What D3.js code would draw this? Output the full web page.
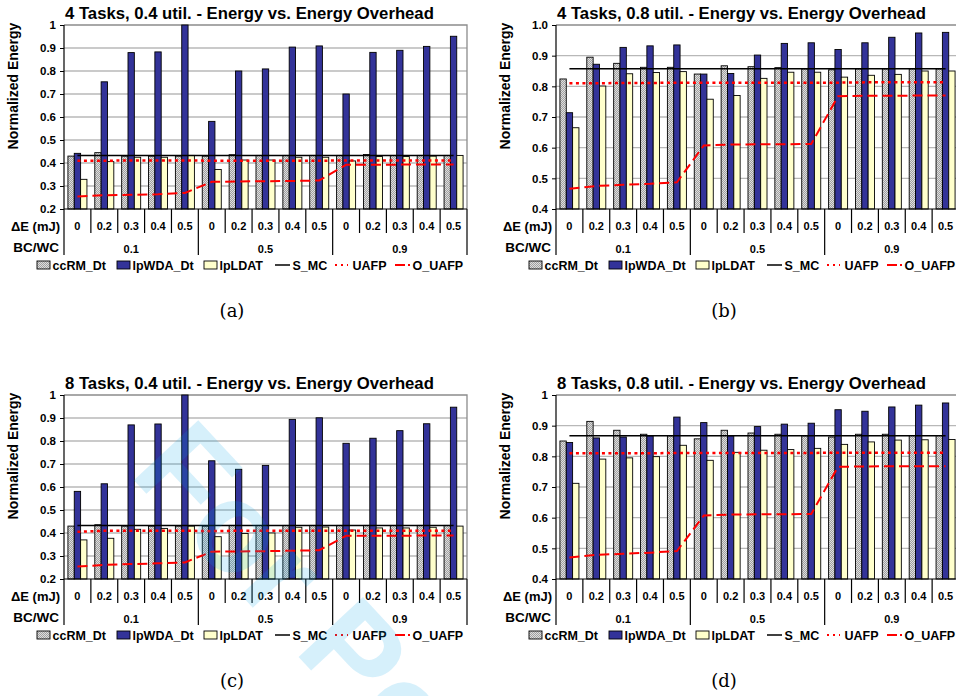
<!DOCTYPE html>
<html>
<head>
<meta charset="utf-8">
<script src="https://cdn.jsdelivr.net/npm/d3@7"></script>
<style>
  body { margin: 0; background: #fff; }
  svg { display: block; font-family: "Liberation Sans", Arial, sans-serif; }
</style>
</head>
<body>
<svg class="chart" width="956" height="696"></svg>
<script>
// category labels
const deltaE = ["0", "0.2", "0.3", "0.4", "0.5"];
const bcwc = ["0.1", "0.5", "0.9"];
const barNames = ["ccRM_Dt", "lpWDA_Dt", "lpLDAT"];

// (a) 4 tasks, 0.4 util.
const a_ccRM = [0.43, 0.445, 0.43, 0.43, 0.43, 0.43, 0.436, 0.433, 0.433, 0.433, 0.433, 0.437, 0.433, 0.433, 0.433];
const a_lpWDA = [0.442, 0.753, 0.88, 0.883, 1.0, 0.581, 0.8, 0.809, 0.904, 0.909, 0.7, 0.881, 0.89, 0.907, 0.951];
const a_lpLDAT = [0.329, 0.406, 0.425, 0.425, 0.433, 0.372, 0.413, 0.413, 0.425, 0.425, 0.409, 0.428, 0.428, 0.43, 0.433];
const a_SMC = [0.433, 0.433, 0.433, 0.433, 0.433, 0.433, 0.433, 0.433, 0.433, 0.433, 0.433, 0.433, 0.433, 0.433, 0.433];
const a_UAFP = [0.41, 0.41, 0.411, 0.411, 0.411, 0.41, 0.41, 0.41, 0.41, 0.41, 0.411, 0.411, 0.411, 0.411, 0.411];
const a_OUAFP = [0.254, 0.26, 0.262, 0.264, 0.27, 0.318, 0.32, 0.321, 0.322, 0.324, 0.392, 0.392, 0.393, 0.393, 0.393];

// (b) 4 tasks, 0.8 util.
const b_ccRM = [0.824, 0.895, 0.875, 0.862, 0.862, 0.84, 0.867, 0.864, 0.861, 0.857, 0.854, 0.857, 0.857, 0.857, 0.857];
const b_lpWDA = [0.714, 0.872, 0.927, 0.932, 0.935, 0.84, 0.842, 0.902, 0.94, 0.942, 0.92, 0.942, 0.96, 0.974, 0.976];
const b_lpLDAT = [0.665, 0.801, 0.841, 0.845, 0.848, 0.758, 0.77, 0.826, 0.846, 0.846, 0.83, 0.836, 0.839, 0.85, 0.85];
const b_SMC = [0.857, 0.857, 0.857, 0.857, 0.857, 0.857, 0.857, 0.857, 0.857, 0.857, 0.857, 0.857, 0.857, 0.857, 0.857];
const b_UAFP = [0.81, 0.81, 0.811, 0.811, 0.812, 0.812, 0.812, 0.812, 0.812, 0.812, 0.812, 0.813, 0.813, 0.813, 0.813];
const b_OUAFP = [0.466, 0.475, 0.479, 0.482, 0.487, 0.607, 0.61, 0.611, 0.611, 0.612, 0.768, 0.769, 0.769, 0.77, 0.77];

// (c) 8 tasks, 0.4 util.
const c_ccRM = [0.43, 0.436, 0.43, 0.43, 0.43, 0.43, 0.433, 0.433, 0.433, 0.433, 0.433, 0.433, 0.433, 0.433, 0.433];
const c_lpWDA = [0.581, 0.614, 0.87, 0.874, 1.0, 0.714, 0.677, 0.694, 0.894, 0.901, 0.79, 0.812, 0.845, 0.875, 0.947];
const c_lpLDAT = [0.37, 0.377, 0.416, 0.42, 0.43, 0.384, 0.398, 0.4, 0.425, 0.426, 0.413, 0.422, 0.422, 0.425, 0.43];
const c_SMC = [0.433, 0.433, 0.433, 0.433, 0.433, 0.433, 0.433, 0.433, 0.433, 0.433, 0.433, 0.433, 0.433, 0.433, 0.433];
const c_UAFP = [0.405, 0.41, 0.41, 0.41, 0.41, 0.408, 0.41, 0.41, 0.41, 0.41, 0.41, 0.41, 0.41, 0.41, 0.41];
const c_OUAFP = [0.254, 0.261, 0.265, 0.268, 0.272, 0.319, 0.32, 0.321, 0.323, 0.325, 0.388, 0.388, 0.388, 0.389, 0.389];

// (d) 8 tasks, 0.8 util.
const d_ccRM = [0.85, 0.914, 0.885, 0.872, 0.867, 0.857, 0.885, 0.876, 0.872, 0.867, 0.863, 0.872, 0.872, 0.868, 0.868];
const d_lpWDA = [0.845, 0.86, 0.863, 0.867, 0.928, 0.91, 0.867, 0.897, 0.905, 0.908, 0.952, 0.947, 0.961, 0.967, 0.974];
const d_lpLDAT = [0.712, 0.791, 0.795, 0.799, 0.836, 0.787, 0.813, 0.82, 0.822, 0.826, 0.839, 0.847, 0.853, 0.854, 0.855];
const d_SMC = [0.867, 0.867, 0.867, 0.867, 0.867, 0.867, 0.867, 0.867, 0.867, 0.867, 0.867, 0.867, 0.867, 0.867, 0.867];
const d_UAFP = [0.81, 0.81, 0.81, 0.81, 0.811, 0.811, 0.811, 0.811, 0.811, 0.811, 0.812, 0.812, 0.812, 0.812, 0.812];
const d_OUAFP = [0.47, 0.479, 0.482, 0.486, 0.491, 0.607, 0.61, 0.611, 0.611, 0.612, 0.766, 0.767, 0.768, 0.768, 0.768];

const svg = d3.select(".chart");

// dithered grey fill for the ccRM bars
const defs = svg.append("defs");
const pat = defs.append("pattern")
  .attr("id", "dither")
  .attr("width", 2)
  .attr("height", 2)
  .attr("patternUnits", "userSpaceOnUse");
pat.append("rect").attr("width", 2).attr("height", 2).attr("fill", "#dedede");
pat.append("rect").attr("width", 1).attr("height", 1).attr("fill", "#a0a0a0");
pat.append("rect").attr("x", 1).attr("y", 1).attr("width", 1).attr("height", 1).attr("fill", "#a0a0a0");

const barFill = ["url(#dither)", "#333399", "#ffffcc"];
const lineStyle = [
  { name: "S_MC", stroke: "#000", width: 1.5, dash: null },
  { name: "UAFP", stroke: "#ff0000", width: 2.5, dash: "3,3.5" },
  { name: "O_UAFP", stroke: "#ff0000", width: 2, dash: "10,5" },
];

const panels = [
  { x: 64, y: 25, domain: [0.2, 1], fmt: (d) => (d === 1 ? "1" : d3.format(".1f")(d)),
    title: "4 Tasks, 0.4 util. - Energy vs. Energy Overhead", caption: "(a)",
    bars: [a_ccRM, a_lpWDA, a_lpLDAT], lines: [a_SMC, a_UAFP, a_OUAFP] },
  { x: 556, y: 25, domain: [0.4, 1], fmt: d3.format(".1f"),
    title: "4 Tasks, 0.8 util. - Energy vs. Energy Overhead", caption: "(b)",
    bars: [b_ccRM, b_lpWDA, b_lpLDAT], lines: [b_SMC, b_UAFP, b_OUAFP] },
  { x: 64, y: 395, domain: [0.2, 1], fmt: (d) => (d === 1 ? "1" : d3.format(".1f")(d)),
    title: "8 Tasks, 0.4 util. - Energy vs. Energy Overhead", caption: "(c)",
    bars: [c_ccRM, c_lpWDA, c_lpLDAT], lines: [c_SMC, c_UAFP, c_OUAFP] },
  { x: 556, y: 395, domain: [0.4, 1], fmt: (d) => (d === 1 ? "1" : d3.format(".1f")(d)),
    title: "8 Tasks, 0.8 util. - Energy vs. Energy Overhead", caption: "(d)",
    bars: [d_ccRM, d_lpWDA, d_lpLDAT], lines: [d_SMC, d_UAFP, d_OUAFP] },
];

const W = 403;
const H = 184;
const cats = d3.cross(bcwc, deltaE).map(([g, e]) => g + "|" + e);

function drawPanel(p) {
  const g = svg.append("g").attr("transform", `translate(${p.x},${p.y})`);

  const x = d3.scaleBand().domain(cats).range([0, W]);
  const xs = d3.scaleBand().domain(barNames).range([0, x.bandwidth()]).paddingOuter(0.62);
  const y = d3.scaleLinear().domain(p.domain).range([H, 0]);
  const ticks = y.ticks(Math.round((p.domain[1] - p.domain[0]) * 10));

  // plot area + gridlines
  g.append("rect").attr("width", W).attr("height", H).attr("fill", "#fff");
  g.append("g")
    .selectAll("line")
    .data(ticks.filter((t) => t > p.domain[0] + 1e-9 && t < p.domain[1] - 1e-9))
    .join("line")
    .attr("x1", 0).attr("x2", W)
    .attr("y1", (d) => y(d)).attr("y2", (d) => y(d))
    .attr("stroke", "#b8b8b8")
    .attr("stroke-width", 1.3);
  g.append("path")
    .attr("d", `M0,0H${W}V${H}`)
    .attr("fill", "none")
    .attr("stroke", "#8c8c8c")
    .attr("stroke-width", 1.3);

  // bars
  p.bars.forEach((vals, si) => {
    g.append("g")
      .selectAll("rect")
      .data(vals)
      .join("rect")
      .attr("x", (d, i) => x(cats[i]) + xs(barNames[si]))
      .attr("y", (d) => y(d))
      .attr("width", xs.bandwidth())
      .attr("height", (d) => H - y(d))
      .attr("fill", barFill[si])
      .attr("stroke", "#000")
      .attr("stroke-width", 0.9);
  });

  // lines
  p.lines.forEach((vals, li) => {
    const st = lineStyle[li];
    const line = d3.line()
      .x((d, i) => x(cats[i]) + x.bandwidth() / 2)
      .y((d) => y(d));
    g.append("path")
      .datum(vals)
      .attr("d", line)
      .attr("fill", "none")
      .attr("stroke", st.stroke)
      .attr("stroke-width", st.width)
      .attr("stroke-dasharray", st.dash);
  });

  // y axis
  const yAxis = g.append("g").call(
    d3.axisLeft(y).tickValues(ticks).tickSize(4).tickPadding(4).tickFormat(p.fmt)
  );
  yAxis.select(".domain").remove();
  yAxis.selectAll("line").attr("stroke", "#000");
  yAxis.selectAll("text")
    .attr("font-size", 11.5)
    .attr("font-weight", "bold")
    .attr("font-family", "Liberation Sans, Arial, sans-serif")
    .attr("fill", "#000");
  g.append("line")
    .attr("x1", 0).attr("x2", 0).attr("y1", 0).attr("y2", H + 46)
    .attr("stroke", "#000").attr("stroke-width", 1.2);

  // category axis (two levels)
  g.append("line")
    .attr("x1", 0).attr("x2", W).attr("y1", H).attr("y2", H)
    .attr("stroke", "#000").attr("stroke-width", 1.2);
  g.append("g")
    .selectAll("line")
    .data(cats.slice(1).concat(["end"]))
    .join("line")
    .attr("x1", (d) => (d === "end" ? W : x(d)))
    .attr("x2", (d) => (d === "end" ? W : x(d)))
    .attr("y1", H)
    .attr("y2", (d) => (d === "end" || d.endsWith("|0") ? H + 46 : H + 24))
    .attr("stroke", "#000")
    .attr("stroke-width", 1.2);
  g.append("g")
    .selectAll("text")
    .data(cats)
    .join("text")
    .attr("x", (d) => x(d) + x.bandwidth() / 2)
    .attr("y", H + 21)
    .attr("text-anchor", "middle")
    .attr("font-size", 11)
    .attr("font-weight", "bold")
    .text((d) => d.split("|")[1]);
  g.append("g")
    .selectAll("text")
    .data(bcwc)
    .join("text")
    .attr("x", (d) => x(d + "|0") + x.bandwidth() * 2.5)
    .attr("y", H + 44)
    .attr("text-anchor", "middle")
    .attr("font-size", 11)
    .attr("font-weight", "bold")
    .text((d) => d);
  g.append("text")
    .attr("x", -4).attr("y", H + 22)
    .attr("text-anchor", "end")
    .attr("font-size", 13)
    .attr("font-weight", "bold")
    .text("\u0394E (mJ)");
  g.append("text")
    .attr("x", -5).attr("y", H + 43)
    .attr("text-anchor", "end")
    .attr("font-size", 13.5)
    .attr("font-weight", "bold")
    .text("BC/WC");

  // axis title + chart title
  g.append("text")
    .attr("transform", `translate(-46,61) rotate(-90)`)
    .attr("text-anchor", "middle")
    .attr("font-size", 14)
    .attr("font-weight", "bold")
    .text("Normalized Energy");
  g.append("text")
    .attr("x", 1).attr("y", -6)
    .attr("font-size", 16.7)
    .attr("font-weight", "bold")
    .text(p.title);

  // legend
  const lg = g.append("g").attr("transform", `translate(-27,${H + 56})`);
  const itemX = [0, 80, 167, 238, 298, 358];
  barNames.forEach((name, i) => {
    lg.append("rect")
      .attr("x", itemX[i]).attr("y", -4)
      .attr("width", 13).attr("height", 8)
      .attr("fill", barFill[i])
      .attr("stroke", "#000").attr("stroke-width", 0.9);
    lg.append("text")
      .attr("x", itemX[i] + 15.5).attr("y", 4.5)
      .attr("font-size", 12.5).attr("font-weight", "bold")
      .text(name);
  });
  lineStyle.forEach((st, i) => {
    const lx = itemX[3 + i];
    lg.append("line")
      .attr("x1", lx).attr("x2", i === 1 ? lx + 13 : lx + 15)
      .attr("y1", 0).attr("y2", 0)
      .attr("stroke", st.stroke)
      .attr("stroke-width", i === 1 ? 2 : st.width)
      .attr("stroke-dasharray", i === 2 ? "10,3" : i === 1 ? "2,4" : null);
    lg.append("text")
      .attr("x", lx + 17.5).attr("y", 4.5)
      .attr("font-size", 12.5).attr("font-weight", "bold")
      .text(st.name);
  });

  // sub-figure caption
  g.append("text")
    .attr("x", 168).attr("y", 292)
    .attr("text-anchor", "middle")
    .attr("font-family", "DejaVu Serif, Liberation Serif, serif")
    .attr("font-size", 18)
    .text(p.caption);
}

panels.forEach(drawPanel);

// review watermark
svg.append("text")
  .attr("transform", "translate(128,474) rotate(47)")
  .attr("font-size", 128)
  .attr("font-weight", "bold")
  .attr("fill", "#00a0e9")
  .attr("fill-opacity", 0.16)
  .text("For Peer Review");
</script>
</body>
</html>
